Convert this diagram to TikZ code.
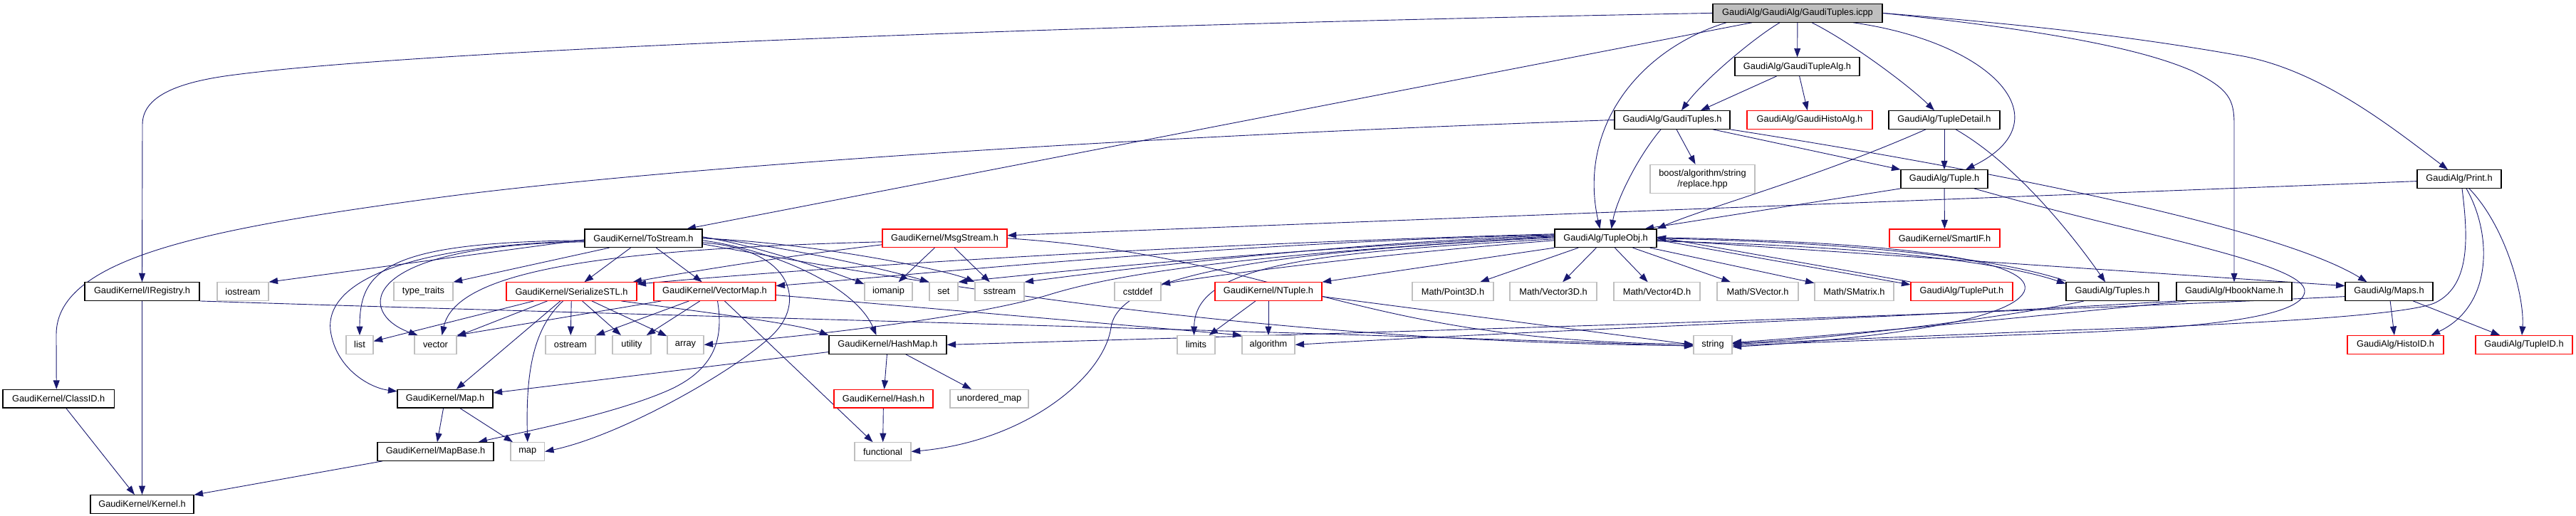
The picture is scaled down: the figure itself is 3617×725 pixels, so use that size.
\documentclass[tikz,border=0pt]{standalone}
\usepackage{fontspec}
\setmainfont{Liberation Sans}
\usetikzlibrary{arrows.meta}
\definecolor{edgec}{HTML}{191970}
\definecolor{greyb}{HTML}{BFBFBF}
\definecolor{redb}{HTML}{FF0000}
\pgfdeclarelayer{bg}
\pgfsetlayers{bg,main}
\begin{document}
\begin{tikzpicture}[x=1pt,y=-1pt,
  box/.style={draw, fill=white, line width=1.1pt, minimum height=25.6pt, inner sep=0pt, font=\fontsize{12.8}{14.4}\selectfont, text=black},
  bbox/.style={box, draw=black},
  rbox/.style={box, draw=redb},
  gbox/.style={box, draw=greyb},
  rootbox/.style={box, draw=black, fill=greyb},
  edg/.style={draw=edgec, line width=0.9pt, -{Triangle[length=12.5pt,width=9pt]}},
]
\useasboundingbox (0,0) rectangle (3617,725);
% row 0-3
\node[rootbox, minimum width=238pt] (R) at (2524,18.4) {GaudiAlg/GaudiAlg/GaudiTuples.icpp};
\node[bbox, minimum width=175pt] (GTA) at (2523.5,93.7) {GaudiAlg/GaudiTupleAlg.h};
\node[bbox, minimum width=162pt] (GTs) at (2348,168.5) {GaudiAlg/GaudiTuples.h};
\node[rbox, minimum width=176pt] (GHA) at (2541,168.5) {GaudiAlg/GaudiHistoAlg.h};
\node[bbox, minimum width=156pt] (TD) at (2730,168.5) {GaudiAlg/TupleDetail.h};
\node[gbox, minimum width=147pt, minimum height=40.4pt, align=center] (BO) at (2390.5,251.6) {boost/algorithm/string\\/replace.hpp};
\node[bbox, minimum width=122pt] (T) at (2730,251.6) {GaudiAlg/Tuple.h};
\node[bbox, minimum width=118pt] (PR) at (3453,251.6) {GaudiAlg/Print.h};
% row 4
\node[bbox, minimum width=165pt] (TS) at (903.5,334.8) {GaudiKernel/ToStream.h};
\node[rbox, minimum width=175pt] (MS) at (1326.5,334.8) {GaudiKernel/MsgStream.h};
\node[bbox, minimum width=143pt] (TO) at (2254.5,334.8) {GaudiAlg/TupleObj.h};
\node[rbox, minimum width=155pt] (SIF) at (2730.5,334.8) {GaudiKernel/SmartIF.h};
% row 5
\node[bbox, minimum width=161pt] (IR) at (199.5,409.6) {GaudiKernel/IRegistry.h};
\node[gbox, minimum width=72pt] (IOS) at (341,409.6) {iostream};
\node[gbox, minimum width=83pt] (TT) at (594.5,409.6) {type\_traits};
\node[rbox, minimum width=183pt] (SER) at (802.5,409.6) {GaudiKernel/SerializeSTL.h};
\node[rbox, minimum width=171pt] (VM) at (1003.5,409.6) {GaudiKernel/VectorMap.h};
\node[gbox, minimum width=67pt] (IO) at (1247.5,409.6) {iomanip};
\node[gbox, minimum width=40pt] (ST) at (1325,409.6) {set};
\node[gbox, minimum width=69pt] (SS) at (1403.5,409.6) {sstream};
\node[gbox, minimum width=65pt] (CS) at (1597.5,409.6) {cstddef};
\node[rbox, minimum width=150pt] (NT) at (1781,409.6) {GaudiKernel/NTuple.h};
\node[gbox, minimum width=114pt] (P3) at (2040,409.6) {Math/Point3D.h};
\node[gbox, minimum width=122pt] (V3) at (2181,409.6) {Math/Vector3D.h};
\node[gbox, minimum width=121pt] (V4) at (2326.5,409.6) {Math/Vector4D.h};
\node[gbox, minimum width=114pt] (SV) at (2468,409.6) {Math/SVector.h};
\node[gbox, minimum width=111pt] (SM) at (2603.5,409.6) {Math/SMatrix.h};
\node[rbox, minimum width=143pt] (TP) at (2754.5,409.6) {GaudiAlg/TuplePut.h};
\node[bbox, minimum width=130pt] (TPL) at (2966,409.6) {GaudiAlg/Tuples.h};
\node[bbox, minimum width=162pt] (HB) at (3137,409.6) {GaudiAlg/HbookName.h};
\node[bbox, minimum width=123pt] (MP) at (3354.5,409.6) {GaudiAlg/Maps.h};
% row 6
\node[gbox, minimum width=38pt] (LI) at (505,484.4) {list};
\node[gbox, minimum width=59pt] (VEC) at (611.5,484.4) {vector};
\node[gbox, minimum width=70pt] (OS) at (801,484.4) {ostream};
\node[gbox, minimum width=54pt] (UT) at (887,484.4) {utility};
\node[gbox, minimum width=51pt] (AR) at (962.5,484.4) {array};
\node[bbox, minimum width=165pt] (HM) at (1246.5,484.4) {GaudiKernel/HashMap.h};
\node[gbox, minimum width=53pt] (LIM) at (1679.5,484.4) {limits};
\node[gbox, minimum width=74pt] (ALG) at (1781,484.4) {algorithm};
\node[gbox, minimum width=54pt] (STR) at (2405,484.4) {string};
\node[rbox, minimum width=135pt] (HI) at (3363.5,484.4) {GaudiAlg/HistoID.h};
\node[rbox, minimum width=136pt] (TI) at (3544,484.4) {GaudiAlg/TupleID.h};
% row 7
\node[bbox, minimum width=156.5pt] (CID) at (82.25,560.2) {GaudiKernel/ClassID.h};
\node[bbox, minimum width=134pt] (MAPH) at (625,560.2) {GaudiKernel/Map.h};
\node[rbox, minimum width=139pt] (HS) at (1240.5,560.2) {GaudiKernel/Hash.h};
\node[gbox, minimum width=110pt] (UM) at (1389,560.2) {unordered\_map};
% row 8
\node[bbox, minimum width=163pt] (MB) at (611.5,634.5) {GaudiKernel/MapBase.h};
\node[gbox, minimum width=47.5pt] (MAP) at (740.75,634.5) {map};
\node[gbox, minimum width=79pt] (FN) at (1239.5,634.5) {functional};
% row 9
\node[bbox, minimum width=145pt] (KE) at (199.5,708.4) {GaudiKernel/Kernel.h};

\begin{pgfonlayer}{bg}
% root
\draw[edg] (R) -- (GTA);
\draw[edg] ([xshift=-25pt]R.south) .. controls (2460,55) and (2390,115) .. ([xshift=13pt]GTs.north);
\draw[edg] ([xshift=-100pt]R.south) .. controls (2300,70) and (2215,180) .. ([xshift=-8pt]TO.north);
\draw[edg] ([xshift=-64pt]R.south) -- ([xshift=61pt]TS.north);
\draw[edg] (R.west) .. controls (1500,35) and (600,70) .. (330,105) .. controls (250,115) and (200,135) .. (200,175) -- (IR.north);
\draw[edg] ([xshift=20pt]R.south) .. controls (2600,60) and (2680,120) .. ([xshift=-14pt]TD.north);
\draw[edg] ([xshift=78pt]R.south) .. controls (2800,60) and (2900,170) .. ([xshift=30pt]T.north);
\draw[edg] (R.east) .. controls (2850,40) and (3000,65) .. (3079,100) .. controls (3130,125) and (3137,140) .. (3137,175) -- (HB.north);
\draw[edg] (R.east) .. controls (2850,35) and (3000,52) .. (3150,79) .. controls (3260,100) and (3360,180) .. ([xshift=-16pt]PR.north);
% GaudiTupleAlg
\draw[edg] (GTA) -- (GHA);
\draw[edg] ([xshift=-29pt]GTA.south) -- ([xshift=40pt]GTs.north);
% GaudiTuples
\draw[edg] (GTs.west) .. controls (1500,195) and (900,240) .. (620,277) .. controls (300,320) and (79,360) .. (79,470) -- ([xshift=-3pt]CID.north);
\draw[edg] ([xshift=-16pt]GTs.south) .. controls (2300,220) and (2270,280) .. ([xshift=8pt]TO.north);
\draw[edg] ([xshift=6pt]GTs.south) -- ([xshift=-10pt]BO.north);
\draw[edg] ([xshift=57pt]GTs.south) -- (T.north west);
\draw[edg] (GTs.south east) .. controls (2800,240) and (3200,320) .. ([xshift=-31pt]MP.north);
% TupleDetail
\draw[edg] ([xshift=-26pt]TD.south) .. controls (2550,250) and (2400,290) .. (TO.north east);
\draw[edg] (TD) -- (T);
\draw[edg] ([xshift=16pt]TD.south) .. controls (2830,230) and (2910,330) .. ([xshift=-10pt]TPL.north);
% Tuple
\draw[edg] (T) -- (SIF);
\draw[edg] (T.south west) -- ([xshift=55pt]TO.north);
\draw[edg] ([xshift=42pt]T.south) .. controls (3000,330) and (3240,370) .. (3236,410) .. controls (3232,445) and (3100,460) .. (2900,468) -- ([yshift=-1pt]STR.east);
% Print
\draw[edg] ([yshift=-3pt]PR.west) -- ([yshift=4pt]MS.east);
\draw[edg] ([xshift=10pt]PR.south) .. controls (3500,330) and (3500,430) .. ([xshift=50pt]HI.north);
\draw[edg] ([xshift=14pt]PR.south) .. controls (3520,320) and (3545,420) .. ([xshift=-3pt]TI.north);
\draw[edg] ([xshift=4pt]PR.south) .. controls (3465,330) and (3470,400) .. (3420,425) .. controls (3380,445) and (3100,458) .. (2900,464) -- ([yshift=1pt]STR.east);
% Maps
\draw[edg] (MP) -- (HI);
\draw[edg] (MP) -- (TI);
\draw[edg] ([yshift=-7pt]MP.west) .. controls (2700,445) and (2000,465) .. (HM.east);
% HbookName, Tuples
\draw[edg] (HB.south west) .. controls (2700,445) and (2200,462) .. (ALG.east);
\draw[edg] ([xshift=15pt]HB.south west) .. controls (2900,440) and (2600,470) .. ([yshift=3pt]STR.east);
\draw[edg] ([xshift=-40pt]TPL.south) .. controls (2850,440) and (2600,475) .. ([yshift=2pt]STR.east);
\draw[edg] ([yshift=15pt]TPL.west) .. controls (2800,361) and (2600,341) .. (TO.east);
% TupleObj right
\draw[edg] ([yshift=-4pt]TO.east) .. controls (2600,345) and (2800,365) .. ([yshift=11pt]TPL.west);
\draw[edg] ([yshift=-2.2pt]TO.east) -- ([yshift=9.6pt]TP.west);
\draw[edg] ([yshift=13.6pt]TP.west) -- ([yshift=1.8pt]TO.east);
\draw[edg] ([yshift=-2pt]TO.east) -- ([yshift=8pt]MP.west);
\draw[edg] ([yshift=1pt]TO.east) .. controls (2700,340) and (2860,370) .. (2842,410) .. controls (2820,455) and (2600,478) .. ([yshift=-3pt]STR.east);
\draw[edg] (TO) -- (SV);
\draw[edg] (TO) -- (SM);
\draw[edg] (TO) -- (P3);
\draw[edg] (TO) -- (V3);
\draw[edg] (TO) -- (V4);
% TupleObj left
\draw[edg] (TO.south west) -- (NT.north east);
\draw[edg] ([yshift=-3pt]TO.west) .. controls (1900,360) and (1700,388) .. ([yshift=-3pt]CS.north east);
\draw[edg] ([yshift=-1pt]TO.west) .. controls (1850,355) and (1678,370) .. ([xshift=-3pt]LIM.north);
\draw[edg] ([yshift=1pt]TO.west) .. controls (1750,355) and (1570,390) .. (1560,460) .. controls (1550,530) and (1440,620) .. (FN.east);
\draw[edg] ([yshift=3pt]TO.west) .. controls (1800,350) and (1500,380) .. (ST.north east);
\draw[edg] ([yshift=4pt]TO.west) .. controls (1900,340) and (1600,375) .. (SS.north east);
\draw[edg] ([yshift=5pt]TO.west) .. controls (1700,342) and (1300,385) .. ([yshift=8pt]VM.east);
\draw[edg] ([yshift=6pt]TO.west) .. controls (1600,345) and (1100,380) .. ([yshift=-3pt]SER.north east);
\draw[edg] ([yshift=2pt]TO.west) .. controls (1700,360) and (1550,390) .. (1470,415) .. controls (1350,450) and (1100,475) .. (AR.east);
% MsgStream
\draw[edg] (MS) -- (IO);
\draw[edg] (MS) -- (SS);
\draw[edg] ([yshift=-5pt]MS.west) .. controls (850,350) and (640,380) .. ([xshift=9pt]VEC.north);
\draw[edg] ([yshift=-9pt]MS.west) .. controls (1100,360) and (950,385) .. ([xshift=-6pt]SER.north east);
\draw[edg] (MS.east) .. controls (1800,360) and (1900,480) .. ([yshift=1pt]STR.west);
% ToStream
\draw[edg] ([yshift=-2pt]TS.west) -- (IOS.north east);
\draw[edg] ([xshift=-48pt]TS.south) -- (TT.north east);
\draw[edg] ([yshift=-3pt]TS.west) .. controls (540,340) and (505,380) .. (LI.north);
\draw[edg] ([yshift=-5pt]TS.west) .. controls (500,345) and (500,440) .. ([xshift=-25pt]VEC.north);
\draw[edg] (TS) -- (SER);
\draw[edg] (TS) -- (VM);
\draw[edg] ([yshift=-3pt]TS.east) .. controls (1080,350) and (1200,400) .. ([xshift=-16pt]HM.north);
\draw[edg] ([yshift=-6pt]TS.east) .. controls (1110,350) and (1130,420) .. (1090,465) .. controls (1050,510) and (880,610) .. (MAP.east);
\draw[edg] ([yshift=-4pt]TS.west) .. controls (560,345) and (450,400) .. (465,470) .. controls (475,520) and (520,545) .. ([yshift=-3pt]MAPH.north west);
\draw[edg] ([yshift=2pt]TS.east) .. controls (1060,345) and (1150,375) .. ([yshift=-3pt]IO.north west);
\draw[edg] ([yshift=1pt]TS.east) .. controls (1100,345) and (1250,380) .. (ST.north west);
\draw[edg] (TS.east) .. controls (1150,342) and (1330,380) .. (SS.north west);
\draw[edg] ([yshift=-8pt]TS.east) .. controls (1300,400) and (1800,482) .. ([yshift=-1pt]STR.west);
% SerializeSTL
\draw[edg] (SER) -- (LI);
\draw[edg] (SER) -- (VEC);
\draw[edg] (SER) -- (OS);
\draw[edg] (SER) -- (UT);
\draw[edg] (SER) -- (AR);
\draw[edg] (SER) -- (MAPH);
\draw[edg] ([xshift=-12pt]SER.south) .. controls (750,460) and (738,520) .. (MAP.north);
\draw[edg] ([xshift=70pt]SER.south) .. controls (1000,440) and (1120,455) .. (HM.north west);
% VectorMap
\draw[edg] ([xshift=-75pt]VM.south) -- (VEC.north east);
\draw[edg] (VM) -- (OS);
\draw[edg] (VM) -- (UT);
\draw[edg] ([xshift=4pt]VM.south) .. controls (1015,470) and (1010,520) .. (930,552) .. controls (850,585) and (720,610) .. ([xshift=60pt]MB.north);
\draw[edg] (VM) -- (FN);
\draw[edg] ([yshift=-5pt]VM.east) -- (ALG.north west);
% lower
\draw[edg] (IR) -- (KE);
\draw[edg] (IR.south east) .. controls (800,440) and (1800,465) .. ([yshift=-2pt]STR.west);
\draw[edg] (NT) -- (LIM);
\draw[edg] (NT) -- (ALG);
\draw[edg] ([yshift=-7pt]NT.east) -- (STR.west);
\draw[edg] (HM) -- (MAPH);
\draw[edg] (HM) -- (HS);
\draw[edg] (HM) -- (UM);
\draw[edg] (HS) -- (FN);
\draw[edg] (MAPH) -- (MB);
\draw[edg] (MAPH) -- (MAP);
\draw[edg] (MB) -- (KE);
\draw[edg] (CID) -- (KE);
\end{pgfonlayer}
\end{tikzpicture}
\end{document}
